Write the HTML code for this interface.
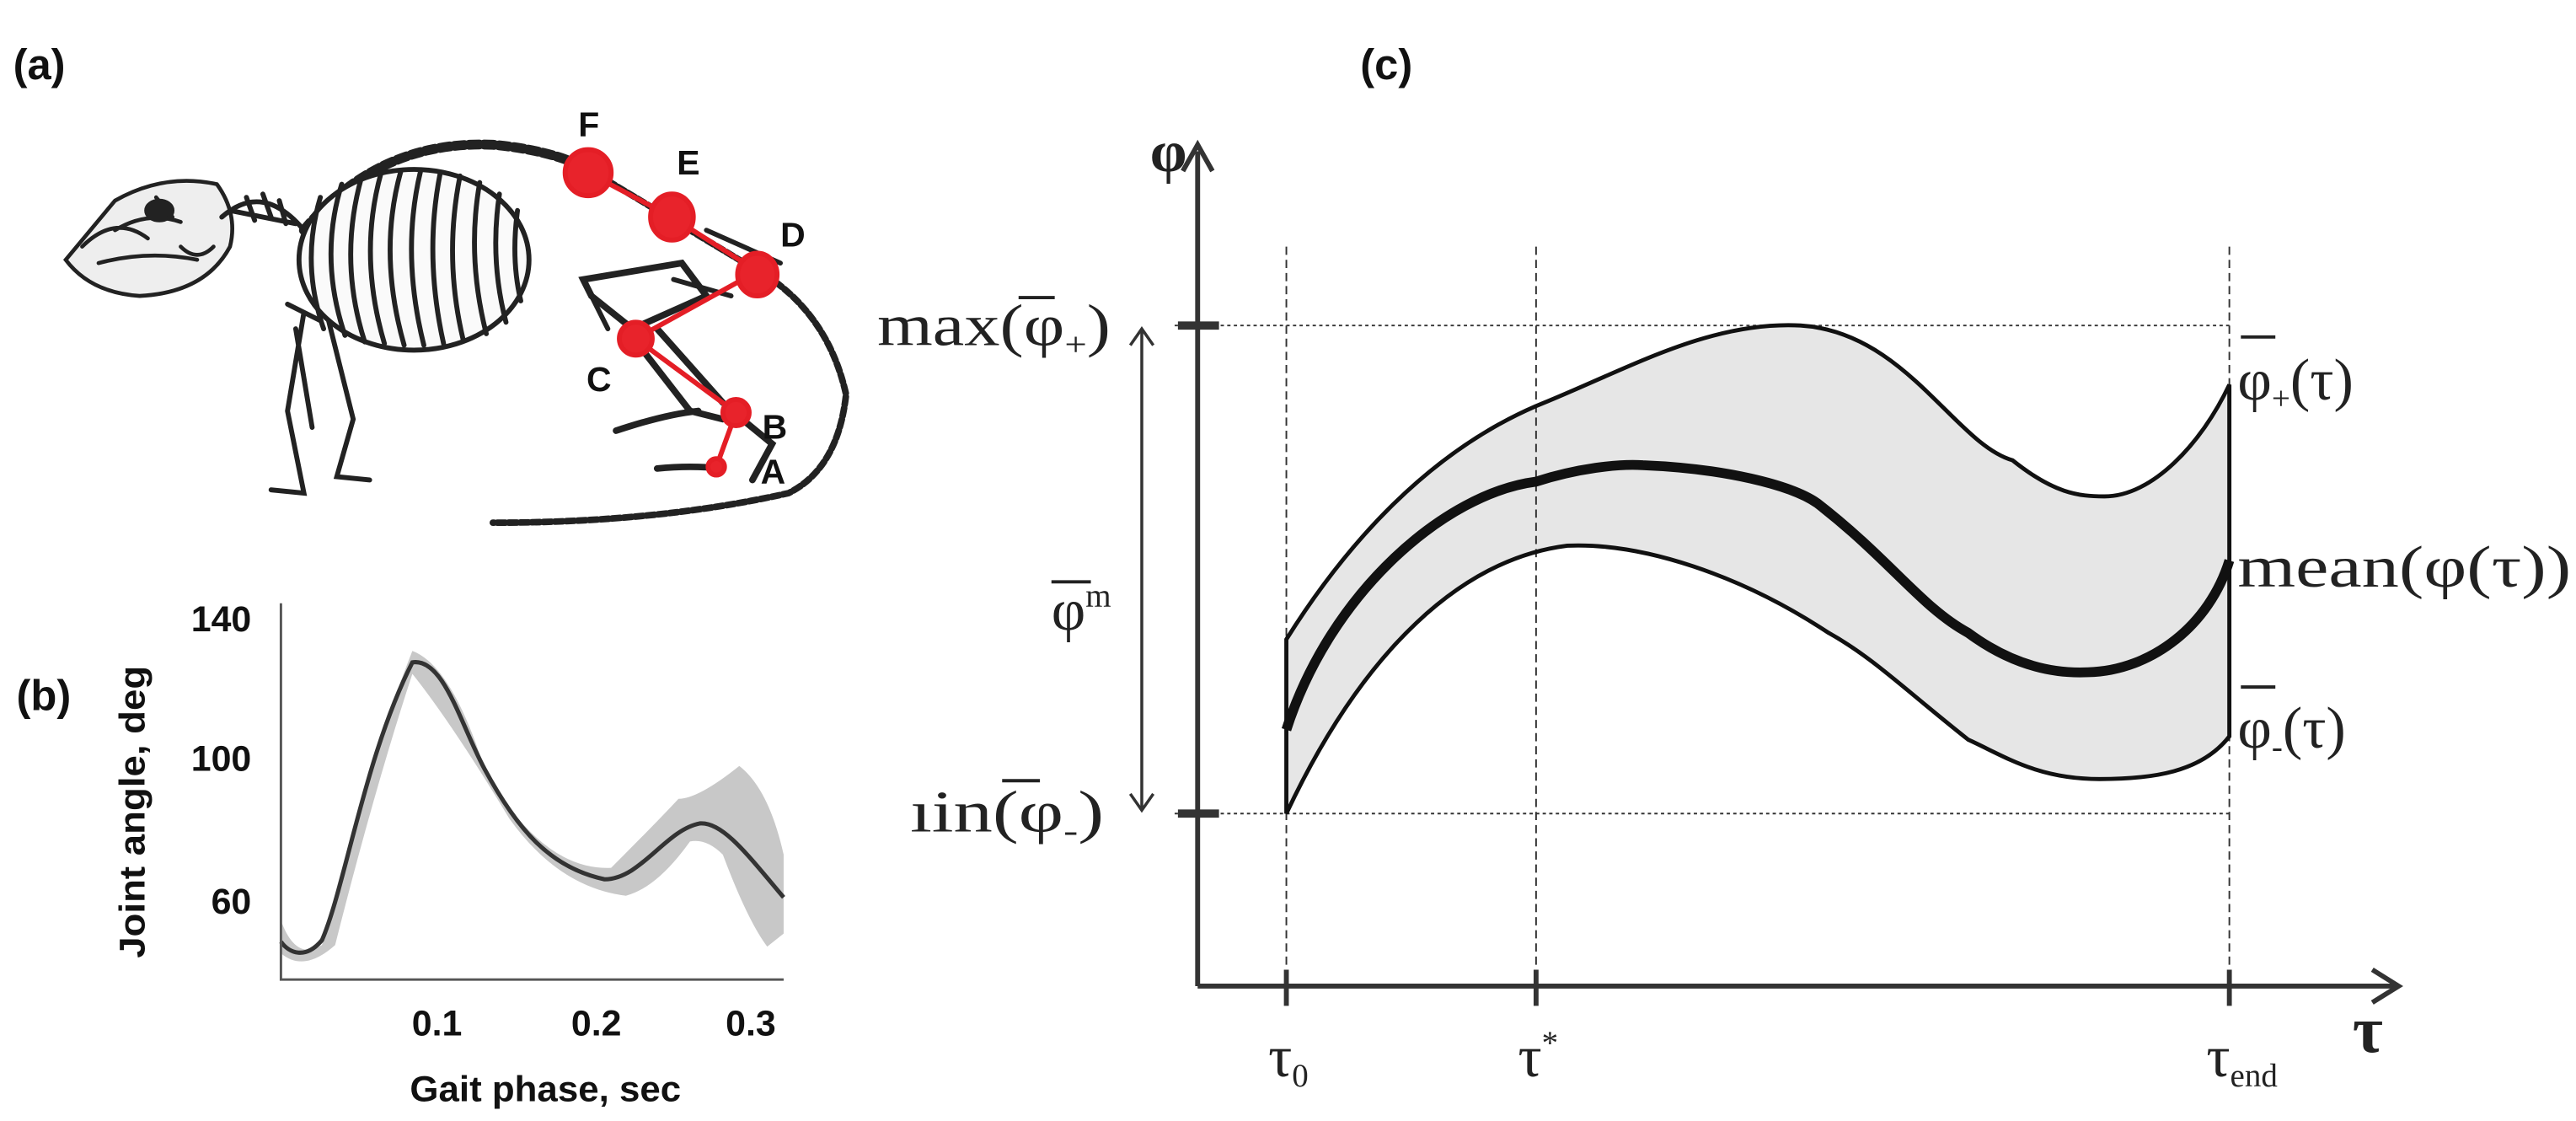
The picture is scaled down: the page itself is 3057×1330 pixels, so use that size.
<!DOCTYPE html>
<html><head><meta charset="utf-8"><style>html,body{margin:0;padding:0;background:#fff}svg{display:block}</style></head>
<body>
<svg width="3057" height="1330" viewBox="0 0 1568 682" xmlns="http://www.w3.org/2000/svg">
<rect width="1568" height="682" fill="#fff"/>
<g font-family="Liberation Sans, sans-serif" font-weight="bold" fill="#111">
<text x="8" y="48" font-size="26">(a)</text>
<text x="10" y="432" font-size="26">(b)</text>
<text x="828" y="48" font-size="26">(c)</text>
</g>
<!-- skeleton approximation -->
<g fill="none" stroke="#222" stroke-width="2.4" stroke-linecap="round">
<path d="M40,158 L70,122 Q100,105 132,112 Q145,130 140,150 Q125,178 85,180 Q55,178 40,158 Z" fill="#eee"/>
<path d="M70,140 Q90,128 110,135 M95,120 l10,12 M60,160 q30,-8 60,-2 M50,150 q20,-20 40,-5 M110,150 q10,10 20,0"/>
<ellipse cx="97" cy="128" rx="8" ry="6" fill="#222"/>
<path d="M135,132 Q160,110 185,140 M140,128 l40,8 M150,120 l5,14 M160,118 l5,14 M170,122 l4,14" stroke-width="3"/>
<path d="M185,140 Q230,85 300,88 Q345,92 370,110" stroke-width="6" stroke-dasharray="6 3"/>
<ellipse cx="252" cy="158" rx="70" ry="55" fill="#fafafa" stroke-width="3"/>
<path d="M195,120 q-12,40 2,80 M208,112 q-14,45 2,92 M220,108 q-14,50 2,100 M232,105 q-14,50 2,104 M244,104 q-14,50 2,106 M256,104 q-12,50 2,106 M268,105 q-10,50 2,104 M280,107 q-10,50 2,100 M292,111 q-8,45 4,92 M304,118 q-6,40 4,78 M315,128 q-4,30 2,55" stroke-width="3"/>
<path d="M185,190 L175,250 L185,300 L165,298 M200,195 L215,255 L205,290 L225,292 M175,185 l20,10 M180,200 l10,60" stroke-width="3"/>
<path d="M370,110 Q420,140 470,170 Q505,195 515,240 Q510,285 480,300 Q400,318 300,318" stroke-width="4" stroke-dasharray="5 2"/>
<path d="M355,170 L415,160 L430,180 L385,200 L360,180 Z M385,205 L420,250 L440,255 M400,200 L440,245 M375,262 q30,-10 50,-12 M400,285 q20,-2 40,0 M448,252 L470,270 L458,292" stroke-width="4"/>
<path d="M355,170 L370,200 M410,170 L445,180 M430,140 L475,160" stroke-width="3"/>
</g>
<g stroke="#e41e26" stroke-width="3" fill="#e8232b">
<polyline points="358,105 409,132 461,165 387,206 448,251 436,284" fill="none"/>
<ellipse cx="358" cy="105" rx="14" ry="14"/>
<ellipse cx="409" cy="132" rx="13" ry="14"/>
<ellipse cx="461" cy="167" rx="12" ry="13"/>
<circle cx="387" cy="206" r="10"/>
<circle cx="448" cy="251" r="8"/>
<circle cx="436" cy="284" r="5"/>
</g>
<g font-family="Liberation Sans, sans-serif" font-weight="bold" font-size="21" fill="#111">
<text x="352" y="83">F</text><text x="412" y="106">E</text><text x="475" y="150">D</text>
<text x="357" y="238">C</text><text x="464" y="267">B</text><text x="463" y="294">A</text>
</g>
<!-- panel b -->
<g>
<path d="M171,560 Q180,585 196,575 Q222,470 251,396 Q275,405 295,468 Q330,530 372,528 Q400,500 413,486 Q425,486 450,466 Q468,480 477,520 L477,568 L467,576 Q455,560 440,520 Q430,510 420,512 Q400,540 381,545 Q340,540 310,498 Q275,440 251,410 Q228,480 204,575 Q185,592 171,580 Z" fill="#c8c8c8"/>
<path d="M171,573 C176,580 186,584 196,572 C210,540 222,460 251,403 C270,400 280,440 295,468 C315,505 335,528 368,535 C390,535 405,505 426,501 C440,500 455,520 477,546" fill="none" stroke="#333" stroke-width="2.6"/>
<path d="M171,367 V596 H477" fill="none" stroke="#555" stroke-width="1.5"/>
<g font-family="Liberation Sans, sans-serif" font-weight="bold" font-size="22" fill="#111">
<text x="153" y="384" text-anchor="end">140</text>
<text x="153" y="469" text-anchor="end">100</text>
<text x="153" y="556" text-anchor="end">60</text>
<text x="266" y="630" text-anchor="middle">0.1</text>
<text x="363" y="630" text-anchor="middle">0.2</text>
<text x="457" y="630" text-anchor="middle">0.3</text>
<text x="332" y="670" text-anchor="middle" textLength="165" lengthAdjust="spacingAndGlyphs">Gait phase, sec</text>
<text transform="translate(88,494) rotate(-90)" text-anchor="middle" textLength="178" lengthAdjust="spacingAndGlyphs">Joint angle, deg</text>
</g>
</g>
<!-- panel c -->
<path d="M783,389 C820,330 870,275 935,247 C990,225 1040,195 1096,198 C1160,202 1190,270 1225,280 C1250,300 1265,302 1281,302 C1310,302 1340,270 1357,234 L1357,448 C1340,470 1310,474 1278,474 C1240,474 1220,460 1198,450 C1160,420 1140,400 1113,385 C1060,350 1000,330 954,332 C890,340 830,395 783,495 Z" fill="#e6e6e6"/>
<g fill="none" stroke="#333">
<line x1="783" y1="150" x2="783" y2="600" stroke-width="1" stroke-dasharray="5 3"/>
<line x1="935" y1="150" x2="935" y2="600" stroke-width="1" stroke-dasharray="5 3"/>
<line x1="1357" y1="150" x2="1357" y2="600" stroke-width="1" stroke-dasharray="5 3"/>
<line x1="715" y1="198" x2="1357" y2="198" stroke-width="1" stroke-dasharray="2 2"/>
<line x1="715" y1="495" x2="1357" y2="495" stroke-width="1" stroke-dasharray="2 2"/>
<path d="M783,389 C820,330 870,275 935,247 C990,225 1040,195 1096,198 C1160,202 1190,270 1225,280 C1250,300 1265,302 1281,302 C1310,302 1340,270 1357,234 L1357,448 C1340,470 1310,474 1278,474 C1240,474 1220,460 1198,450 C1160,420 1140,400 1113,385 C1060,350 1000,330 954,332 C890,340 830,395 783,495 Z" stroke="#111" stroke-width="2.5"/>
<path d="M783,444 C810,360 880,300 935,293 C960,285 985,282 1000,283 C1050,285 1090,295 1106,306 C1150,340 1170,370 1198,385 C1225,405 1250,410 1271,409 C1310,408 1345,380 1357,341" stroke="#111" stroke-width="6"/>
<line x1="729" y1="92" x2="729" y2="600" stroke-width="3"/>
<line x1="729" y1="600" x2="1460" y2="600" stroke-width="3"/>
<path d="M720,104 L729,88 L738,104" stroke-width="3"/>
<path d="M1444,590 L1460,600 L1444,610" stroke-width="3"/>
<line x1="717" y1="198" x2="742" y2="198" stroke-width="5"/>
<line x1="717" y1="495" x2="742" y2="495" stroke-width="5"/>
<line x1="783" y1="590" x2="783" y2="612" stroke-width="3"/>
<line x1="935" y1="590" x2="935" y2="612" stroke-width="3"/>
<line x1="1357" y1="590" x2="1357" y2="612" stroke-width="3"/>
<line x1="695" y1="200" x2="695" y2="493" stroke-width="1.8"/>
<path d="M688,210 L695,200 L702,210 M688,483 L695,493 L702,483" stroke-width="1.8"/>
</g>
<g font-family="Liberation Serif, serif" fill="#222" font-size="36">
<text x="534" y="210" textLength="142" lengthAdjust="spacingAndGlyphs">max(φ<tspan font-size="20" dy="6">+</tspan><tspan dy="-6">)</tspan></text>
<line x1="620" y1="181" x2="642" y2="181" stroke="#222" stroke-width="2"/>
<text x="554" y="506" textLength="118" lengthAdjust="spacingAndGlyphs">ıin(φ<tspan font-size="20" dy="6">-</tspan><tspan dy="-6">)</tspan></text>
<line x1="610" y1="475" x2="633" y2="475" stroke="#222" stroke-width="2"/>
<text x="640" y="383">φ<tspan font-size="20" dy="-14">m</tspan></text>
<line x1="640" y1="354" x2="664" y2="354" stroke="#222" stroke-width="2"/>
<text x="1362" y="243">φ<tspan font-size="20" dy="6">+</tspan><tspan dy="-6">(τ)</tspan></text>
<line x1="1364" y1="205" x2="1385" y2="205" stroke="#222" stroke-width="2"/>
<text x="1362" y="357" textLength="203" lengthAdjust="spacingAndGlyphs">mean(φ(τ))</text>
<text x="1362" y="455">φ<tspan font-size="20" dy="6">-</tspan><tspan dy="-6">(τ)</tspan></text>
<line x1="1364" y1="418" x2="1385" y2="418" stroke="#222" stroke-width="2"/>
<text x="772" y="655">τ<tspan font-size="20" dy="6">0</tspan></text>
<text x="924" y="655">τ<tspan font-size="20" dy="-14">*</tspan></text>
<text x="1343" y="655">τ<tspan font-size="20" dy="6">end</tspan></text>
<text x="1432" y="640" font-weight="bold" font-size="40">τ</text>
<text x="700" y="104" font-weight="bold" font-size="36">φ</text>
</g>
</svg>
</body></html>
